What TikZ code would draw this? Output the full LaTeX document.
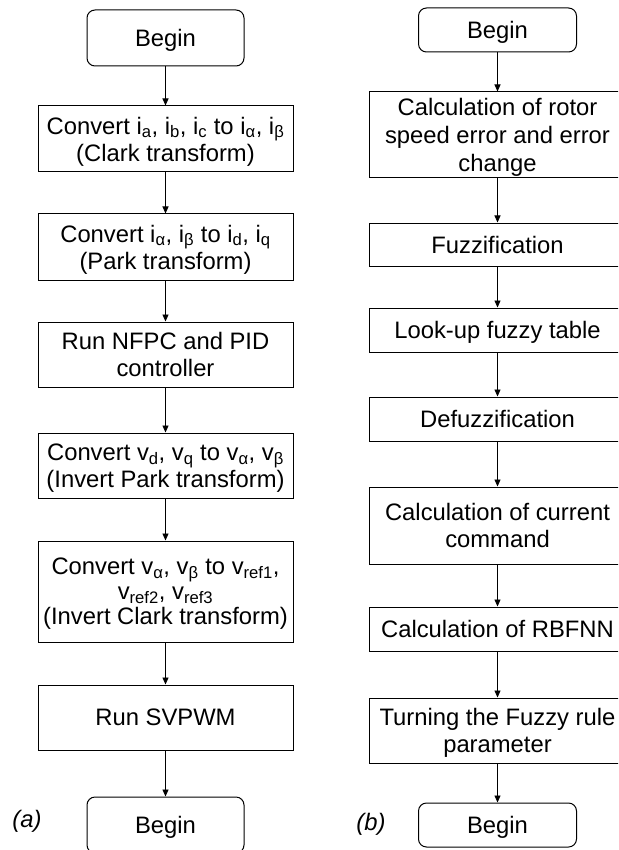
\documentclass[tikz,border=0pt]{standalone}
\usepackage{fontspec}
\setmainfont{Liberation Sans}
\usetikzlibrary{arrows.meta}
\newcommand{\sbs}[1]{\textsubscript{#1}}
\begin{document}
\begin{tikzpicture}[x=1pt,y=-1pt,
  every node/.style={font=\fontsize{23.8}{27}\selectfont},
  box/.style={draw, line width=1pt, minimum width=255pt, inner sep=0pt, align=center, text depth=0pt},
  term/.style={draw, line width=1pt, rounded corners=8pt, minimum width=157pt, inner sep=0pt, align=center, text depth=0pt},
  arr/.style={line width=0.9pt, -{Triangle[length=7pt,width=6pt]}},
  tag/.style={font=\fontsize{23.8}{27}\selectfont\itshape}]
\useasboundingbox (0,0) rectangle (618,850);
\clip (0,0) rectangle (618,850);
% left column
\node[term, minimum height=56pt] (lb) at (165.5,38) {Begin};
\node[box, minimum height=66pt] (l1) at (165.5,139) {Convert i\sbs{a}, i\sbs{b}, i\sbs{c} to i\sbs{α}, i\sbs{β}\\(Clark transform)};
\node[box, minimum height=66pt] (l2) at (165.5,247) {Convert i\sbs{α}, i\sbs{β} to i\sbs{d}, i\sbs{q}\\(Park transform)};
\node[box, minimum height=65pt] (l3) at (165.5,354.5) {Run NFPC and PID\\controller};
\node[box, minimum height=65pt] (l4) at (165.5,465.5) {Convert v\sbs{d}, v\sbs{q} to v\sbs{α}, v\sbs{β}\\(Invert Park transform)};
\node[box, minimum height=101pt] (l5) at (165.5,591.5) {Convert v\sbs{α}, v\sbs{β} to v\sbs{ref1},\\[-2pt]v\sbs{ref2}, v\sbs{ref3}\\[-2pt](Invert Clark transform)};
\node[box, minimum height=65pt] (l6) at (165.5,717.5) {Run SVPWM};
\node[term, minimum height=56pt] (le) at (165.5,825) {Begin};
\node[tag] (la) at (27,821) {(a)};
\foreach \a/\b in {lb/l1,l1/l2,l2/l3,l3/l4,l4/l5,l5/l6,l6/le}
  \draw[arr] (\a) -- (\b);
% right column
\node[term, minimum width=158pt, minimum height=44pt] (rb) at (497.5,30) {Begin};
\node[box, minimum width=256pt, minimum height=86pt] (r1) at (497.5,135) {Calculation of rotor\\[1pt]speed error and error\\[1pt]change};
\node[box, minimum width=256pt, minimum height=43pt] (r2) at (497.5,244.5) {Fuzzification};
\node[box, minimum width=256pt, minimum height=44pt] (r3) at (497.5,330) {Look-up fuzzy table};
\node[box, minimum width=256pt, minimum height=44pt] (r4) at (497.5,419) {Defuzzification};
\node[box, minimum width=256pt, minimum height=77pt] (r5) at (497.5,525.5) {Calculation of current\\command};
\node[box, minimum width=256pt, minimum height=44pt] (r6) at (497.5,629) {Calculation of RBFNN};
\node[box, minimum width=256pt, minimum height=65pt] (r7) at (497.5,730.5) {Turning the Fuzzy rule\\parameter};
\node[term, minimum width=158pt, minimum height=44pt] (re) at (497.5,825) {Begin};
\node[tag] (lbb) at (371,824) {(b)};
\foreach \a/\b in {rb/r1,r1/r2,r2/r3,r3/r4,r4/r5,r5/r6,r6/r7,r7/re}
  \draw[arr] (\a) -- (\b);
\end{tikzpicture}
\end{document}
